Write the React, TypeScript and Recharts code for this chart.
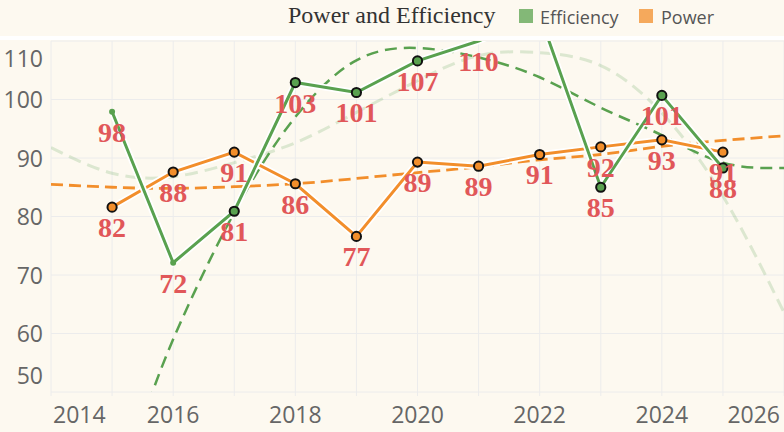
import React from 'react';
import { LineChart, Line, XAxis, YAxis, CartesianGrid, LabelList } from 'recharts';

// series, one value per year
const years = [2015, 2016, 2017, 2018, 2019, 2020, 2021, 2022, 2023, 2024, 2025];
const efficiency = [97.9, 72.1, 80.9, 102.9, 101.2, 106.6, 110.0, 114.5, 85.0, 100.7, 88.3];
const power = [81.6, 87.6, 91.0, 85.6, 76.6, 89.3, 88.6, 90.6, 91.9, 93.1, 91.0];

// fitted trend curves
const trendYears = [2014, 2015, 2016, 2017, 2018, 2019, 2020, 2021, 2022, 2023, 2024, 2025, 2026];
const powerTrend = [85.5, 85.0, 84.8, 85.1, 85.6, 86.5, 87.5, 88.5, 89.7, 90.6, 92.0, 93.0, 93.8];
const effTrendPale = [91.8, 87.4, 86.8, 89.2, 92.6, 97.8, 103.2, 107.5, 108.0, 105.8, 97.7, 83.5, 63.6];
const effTrendYears = [2015.5, 2016, 2017, 2018, 2019, 2020, 2021, 2022, 2023, 2024, 2025, 2026];
const effTrend = [45.0, 59.0, 80.7, 97.0, 106.7, 108.8, 107.2, 103.8, 98.6, 93.9, 89.2, 88.3];

// axis ticks
const xTicks = [2014, 2015, 2016, 2017, 2018, 2019, 2020, 2021, 2022, 2023, 2024, 2025, 2026];
const xLabels = [2014, 2016, 2018, 2020, 2022, 2024, 2026];
const yTicks = [50, 60, 70, 80, 90, 100, 110];

const GREEN = '#59a14f';
const ORANGE = '#f28e2b';
const RED = '#e15759';
const BG = '#fdf9f0';
const GRID = '#ececec';
const SANS = "'Open Sans', 'Noto Sans', sans-serif";
const SERIF = "'Liberation Serif', 'Times New Roman', serif";

const zip = (xs: number[], vs: number[]) => xs.map((year, i) => ({ year, value: vs[i] }));

const effData = zip(years, efficiency);
const powerData = zip(years, power);
const powerTrendData = zip(trendYears, powerTrend);
const paleTrendData = zip(trendYears, effTrendPale);
const effTrendData = zip(effTrendYears, effTrend);

function XTick(props: any) {
  const { x, payload } = props;
  const v = payload.value;
  if (!xLabels.includes(v)) return <g />;
  let anchor = 'middle';
  let dx = 0;
  if (v === 2014) { anchor = 'start'; dx = 2; }
  if (v === 2026) { anchor = 'end'; dx = -4; }
  return (
    <text x={x + dx} y={423} textAnchor={anchor} fill="#666" fontSize={23} fontFamily={SANS}>
      {v}
    </text>
  );
}

function YTick(props: any) {
  const { y, payload } = props;
  const v = payload.value;
  let dy = 8.5;
  if (v === 110) dy = 26;
  if (v === 50) dy = -8.5;
  return (
    <text x={43} y={y + dy} textAnchor="end" fill="#666" fontSize={23} fontFamily={SANS}>
      {v}
    </text>
  );
}

const renderLabel = (props: any) => {
  const x = props.x ?? props.viewBox?.x;
  const y = props.y ?? props.viewBox?.y;
  const value = Number(props.value);
  if (value > 110.5 || x == null || y == null) return null;
  return (
    <text
      key={props.index}
      x={x}
      y={y + 30}
      textAnchor="middle"
      fill={RED}
      fontSize={28}
      fontWeight="bold"
      fontFamily={SERIF}
    >
      {Math.round(value)}
    </text>
  );
};

const effDot = (props: any) => {
  const { cx, cy, index, payload } = props;
  if (payload.value >= 110) return <g key={index} />;
  if (index < 2) return <circle key={index} cx={cx} cy={cy} r={3} fill={GREEN} />;
  return <circle key={index} cx={cx} cy={cy} r={4.6} fill={GREEN} stroke="#111" strokeWidth={2} />;
};

const powerDot = (props: any) => {
  const { cx, cy, index } = props;
  return <circle key={index} cx={cx} cy={cy} r={4.6} fill={ORANGE} stroke="#111" strokeWidth={2} />;
};

export default function App() {
  return (
    <div style={{ position: 'absolute', left: 0, top: 0, width: 784, height: 432, background: BG, overflow: 'hidden' }}>
      <div style={{ position: 'absolute', left: 0, top: 36, width: 784, height: 4, background: '#fff' }} />
      <LineChart width={784} height={432} margin={{ top: 41, right: 0, bottom: 0, left: 0 }}>
        <CartesianGrid stroke={GRID} />
        <XAxis
          type="number"
          dataKey="year"
          domain={[2014, 2026]}
          ticks={xTicks}
          interval={0}
          height={40}
          axisLine={false}
          tickLine={{ stroke: GRID }}
          tickSize={4}
          tick={(p: any) => <XTick {...p} />}
          allowDataOverflow
        />
        <YAxis
          type="number"
          domain={[50, 110]}
          ticks={yTicks}
          interval={0}
          width={51}
          axisLine={false}
          tickLine={false}
          tick={(p: any) => <YTick {...p} />}
          allowDataOverflow
        />

        <Line data={paleTrendData} dataKey="value" type="natural" stroke={GREEN} strokeOpacity={0.2}
          strokeWidth={3} strokeDasharray="13 7" dot={false} activeDot={false} isAnimationActive={false} />
        <Line data={effTrendData} dataKey="value" type="natural" stroke={GREEN}
          strokeWidth={2.5} strokeDasharray="12 7" dot={false} activeDot={false} isAnimationActive={false} />
        <Line data={powerTrendData} dataKey="value" type="natural" stroke={ORANGE}
          strokeWidth={2.8} strokeDasharray="12 6" dot={false} activeDot={false} isAnimationActive={false} />

        <Line data={powerData} dataKey="value" stroke="#fff" strokeWidth={6.5} dot={false}
          activeDot={false} isAnimationActive={false} />
        <Line data={powerData} dataKey="value" stroke={ORANGE} strokeWidth={3} dot={powerDot}
          activeDot={false} isAnimationActive={false}>
          <LabelList dataKey="value" content={renderLabel} />
        </Line>

        <Line data={effData} dataKey="value" stroke="#fff" strokeWidth={6.5} dot={false}
          activeDot={false} isAnimationActive={false} />
        <Line data={effData} dataKey="value" stroke={GREEN} strokeWidth={3} dot={effDot}
          activeDot={false} isAnimationActive={false}>
          <LabelList dataKey="value" content={renderLabel} />
        </Line>
      </LineChart>

      <svg width={784} height={36} style={{ position: 'absolute', left: 0, top: 0 }}>
        <text x={288} y={23} fontSize={24} fontFamily={SERIF} fill="#333">Power and Efficiency</text>
        <rect x={519} y={9} width={14} height={14} fill={GREEN} fillOpacity={0.75} />
        <text x={540} y={24} fontSize={18} fontFamily={SANS} fill="#555">Efficiency</text>
        <rect x={639} y={9} width={14} height={14} fill={ORANGE} fillOpacity={0.75} />
        <text x={661} y={24} fontSize={18} fontFamily={SANS} fill="#555">Power</text>
      </svg>
    </div>
  );
}
